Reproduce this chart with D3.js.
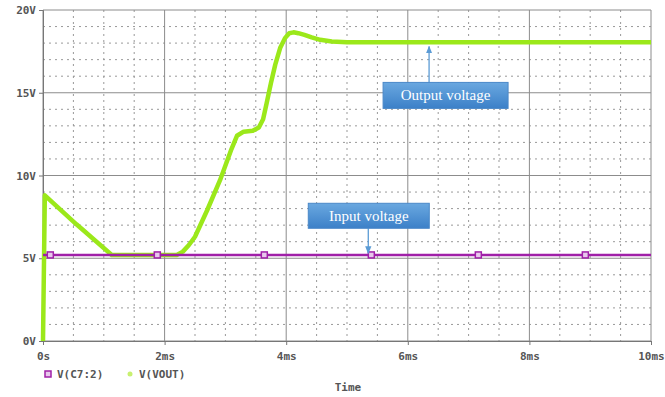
<!DOCTYPE html>
<html>
<head>
<meta charset="utf-8">
<script src="https://cdn.jsdelivr.net/npm/d3@7"></script>
<style>
  body { margin: 0; background: #fff; }
  svg { display: block; }
  .tick text, .lbl { font-family: "DejaVu Sans Mono", monospace; font-weight: bold; font-size: 11px; fill: #555; }
  .note { font-family: "Liberation Serif", "Times New Roman", serif; font-size: 15px; fill: #fff; }
</style>
</head>
<body>
<svg width="665" height="397"></svg>
<script>
// time in ms, volts
var voutT = [0, 0.03, 0.55, 1.13, 1.6, 2.2, 2.3, 2.4, 2.5, 2.7, 2.91, 3.1, 3.19, 3.3, 3.45, 3.55, 3.62, 3.68, 3.75, 3.82, 3.9, 3.98, 4.05, 4.12, 4.2, 4.3, 4.42, 4.56, 4.75, 5.0, 6, 8, 10];
var voutV = [0, 8.8, 7.05, 5.2, 5.2, 5.2, 5.4, 5.8, 6.3, 7.9, 9.7, 11.6, 12.4, 12.65, 12.7, 12.9, 13.4, 14.4, 15.6, 16.7, 17.7, 18.3, 18.6, 18.65, 18.6, 18.5, 18.35, 18.2, 18.1, 18.05, 18.05, 18.05, 18.05];
var vinT = [0, 10];
var vinV = [5.2, 5.2];
var vinMarks = [0.12, 1.88, 3.64, 5.4, 7.16, 8.92];
var xTicks = [0, 2, 4, 6, 8, 10];
var xTickLabels = ["0s", "2ms", "4ms", "6ms", "8ms", "10ms"];
var yTicks = [0, 5, 10, 15, 20];
var yTickLabels = ["0V", "5V", "10V", "15V", "20V"];
var seriesNames = ["V(C7:2)", "V(VOUT)"];
var notes = [
  {text: "Output voltage", t: 6.35, v: 17.8, dx: -46, dy: 36, w: 125, h: 26},
  {text: "Input voltage", t: 5.35, v: 5.3, dx: -60, dy: -50, w: 121, h: 25}
];

var svg = d3.select("svg"),
    margin = {top: 10, right: 14, bottom: 56, left: 43},
    width = 665 - margin.left - margin.right,
    height = 397 - margin.top - margin.bottom,
    g = svg.append("g").attr("transform", "translate(" + margin.left + "," + margin.top + ")");

var x = d3.scaleLinear().domain([0, 10]).range([0, width]),
    y = d3.scaleLinear().domain([0, 20]).range([height, 0]);

var defs = svg.append("defs");
var grad = defs.append("linearGradient").attr("id", "boxg").attr("x1", 0).attr("y1", 0).attr("x2", 0).attr("y2", 1);
grad.append("stop").attr("offset", "0%").attr("stop-color", "#6aa8e0");
grad.append("stop").attr("offset", "100%").attr("stop-color", "#3c80c8");
defs.append("marker").attr("id", "arr").attr("viewBox", "0 0 10 10").attr("refX", 9).attr("refY", 5)
    .attr("markerWidth", 6).attr("markerHeight", 6).attr("orient", "auto")
  .append("path").attr("d", "M0,1 L10,5 L0,9 z").attr("fill", "#5b9bd5");

// minor dotted grid
var minorX = d3.range(0, 10.01, 0.5).filter(function(d) { return d % 2 !== 0; }),
    minorY = d3.range(0, 20.01, 1).filter(function(d) { return d % 5 !== 0; });
g.selectAll(".mx").data(minorX).enter().append("line")
    .attr("x1", function(d) { return x(d); }).attr("x2", function(d) { return x(d); })
    .attr("y1", 0).attr("y2", height)
    .attr("stroke", "#999").attr("stroke-dasharray", "2,4");
g.selectAll(".my").data(minorY).enter().append("line")
    .attr("y1", function(d) { return y(d); }).attr("y2", function(d) { return y(d); })
    .attr("x1", 0).attr("x2", width)
    .attr("stroke", "#999").attr("stroke-dasharray", "2,4");

// major grid
g.selectAll(".gx").data(xTicks).enter().append("line")
    .attr("x1", function(d) { return x(d); }).attr("x2", function(d) { return x(d); })
    .attr("y1", 0).attr("y2", height).attr("stroke", "#8c8c8c");
g.selectAll(".gy").data(yTicks).enter().append("line")
    .attr("y1", function(d) { return y(d); }).attr("y2", function(d) { return y(d); })
    .attr("x1", 0).attr("x2", width).attr("stroke", "#8c8c8c");

g.append("g")
    .attr("transform", "translate(0," + height + ")")
    .call(d3.axisBottom(x).tickValues(xTicks).tickSize(4).tickFormat(function(d, i) { return xTickLabels[i]; }))
    .call(function(a) { a.select(".domain").attr("stroke", "#777"); a.selectAll(".tick line").attr("stroke", "#777"); a.selectAll("text").attr("dy", "1.1em"); });

g.append("g")
    .call(d3.axisLeft(y).tickValues(yTicks).tickSize(4).tickFormat(function(d, i) { return yTickLabels[i]; }))
    .call(function(a) { a.select(".domain").attr("stroke", "#777"); a.selectAll(".tick line").attr("stroke", "#777"); });

var line = d3.line()
    .x(function(d) { return x(d[0]); })
    .y(function(d) { return y(d[1]); });

g.append("path")
    .datum(voutT.map(function(t, i) { return [t, voutV[i]]; }))
    .attr("fill", "none").attr("stroke", "#9be81a").attr("stroke-width", 4.5)
    .attr("stroke-linejoin", "round")
    .attr("d", line);

g.append("path")
    .datum(vinT.map(function(t, i) { return [t, vinV[i]]; }))
    .attr("fill", "none").attr("stroke", "#a020a8").attr("stroke-width", 2.5)
    .attr("d", line);

g.selectAll(".vm").data(vinMarks).enter().append("rect")
    .attr("x", function(d) { return x(d) - 3; }).attr("y", y(5.2) - 3)
    .attr("width", 6).attr("height", 6)
    .attr("fill", "#e8c8ec").attr("stroke", "#a020a8").attr("stroke-width", 1.5);

// annotations
notes.forEach(function(n) {
  var tx = x(n.t), ty = y(n.v),
      bx = tx + n.dx, by = ty + n.dy,
      startY = n.dy > 0 ? by : by + n.h;
  g.append("line").attr("x1", tx).attr("y1", startY).attr("x2", tx).attr("y2", ty)
      .attr("stroke", "#5b9bd5").attr("stroke-width", 1.3).attr("marker-end", "url(#arr)");
  g.append("rect").attr("x", bx).attr("y", by).attr("width", n.w).attr("height", n.h)
      .attr("fill", "url(#boxg)").attr("stroke", "#4a88c8");
  g.append("text").attr("class", "note").attr("x", bx + n.w / 2).attr("y", by + n.h / 2 + 5)
      .attr("text-anchor", "middle").text(n.text);
});

// legend
var leg = svg.append("g").attr("transform", "translate(48,374)");
leg.append("rect").attr("x", -3).attr("y", -3).attr("width", 6).attr("height", 6)
    .attr("fill", "#e8c8ec").attr("stroke", "#a020a8").attr("stroke-width", 1.5);
leg.append("text").attr("class", "lbl").attr("x", 9).attr("y", 4).text(seriesNames[0]);
leg.append("circle").attr("cx", 82).attr("cy", 0).attr("r", 2.5).attr("fill", "#c8f070");
leg.append("text").attr("class", "lbl").attr("x", 91).attr("y", 4).text(seriesNames[1]);

svg.append("text").attr("class", "lbl").attr("x", 348).attr("y", 391).attr("text-anchor", "middle").text("Time");
</script>
</body>
</html>
